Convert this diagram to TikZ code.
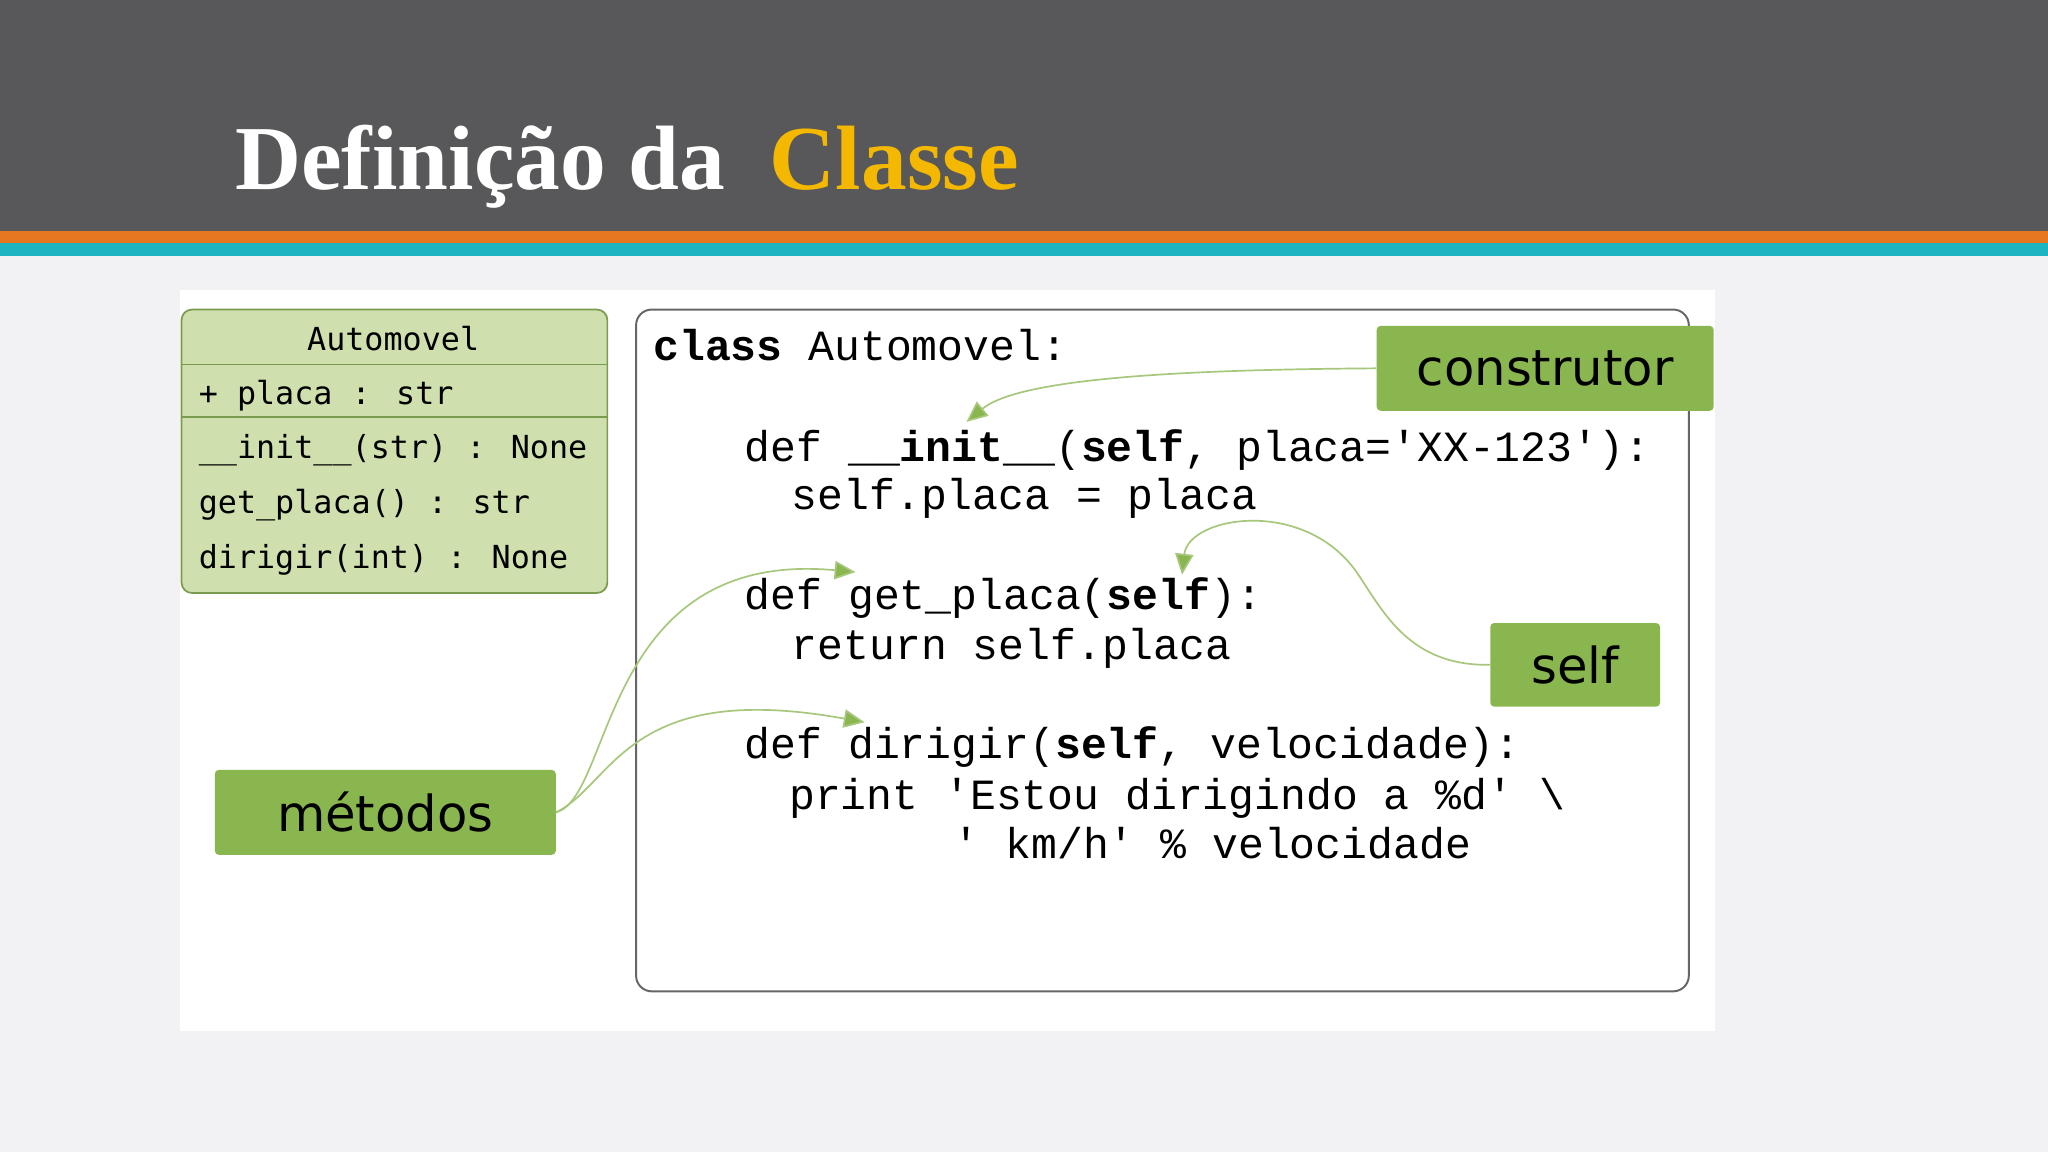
\documentclass[tikz,border=0pt]{standalone}
\usepackage{fontspec}
\setmainfont{Liberation Serif}
\setmonofont{Liberation Mono}
\newfontfamily\labfont{DejaVu Sans}
\newfontfamily\umlfont{DejaVu Sans Mono}
\usetikzlibrary{arrows.meta}
\definecolor{hdr}{HTML}{58585A}
\definecolor{orng}{HTML}{E87722}
\definecolor{teal}{HTML}{1CB5C0}
\definecolor{bgc}{HTML}{F2F1F4}
\definecolor{umlfill}{HTML}{CFE0AE}
\definecolor{umlline}{HTML}{7A9A4E}
\definecolor{labfill}{HTML}{8AB650}
\definecolor{gold}{HTML}{F5B800}
\tikzset{
  code/.style={anchor=base west,inner sep=0,font=\fontsize{33}{36}\ttfamily},
  uml/.style={anchor=base west,inner sep=0,font=\fontsize{24.3}{28}\umlfont},
  lab/.style={fill=labfill,rounded corners=3,inner sep=0,font=\fontsize{38}{44}\labfont},
  conn/.style={draw=labfill!75!white,line width=1.3,-{Triangle[length=16,width=14,fill=labfill]}}
}
\begin{document}
\begin{tikzpicture}[x=1pt,y=-1pt]
\useasboundingbox (0,0) rectangle (1568,882);
\fill[bgc] (0,0) rectangle (1568,882);
\fill[hdr] (0,0) rectangle (1568,177);
\fill[orng] (0,177) rectangle (1568,186);
\fill[teal] (0,186) rectangle (1568,196);
\node[anchor=base west,inner sep=0,text=white,font=\fontsize{70}{74}\bfseries] (title) at (180,145) {Definição da\hspace{34pt}\textcolor{gold}{Classe}};
\fill[white] (138,222) rectangle (1313,789);
% UML
\draw[umlline,fill=umlfill,line width=1.3,rounded corners=8] (139,237) rectangle (465,454);
\draw[umlline,line width=1.3] (139,279) -- (465,279) (139,319) -- (465,319);
\node[uml,anchor=base] (un) at (301,268) {Automovel};
\node[uml] (u1) at (152,310) {+ placa : str};
\node[uml] (u2) at (152,351) {\_\_init\_\_(str) : None};
\node[uml] (u3) at (152,393) {get\_placa() : str};
\node[uml] (u4) at (152,435) {dirigir(int) : None};
% code box
\draw[gray!80!black,line width=1.5,rounded corners=12] (487,237) rectangle (1293,759);
\node[code] (c1) at (500,276) {\textbf{class} Automovel:};
\node[code] (c2) at (570,353) {def \textbf{\_\_init\_\_}(\textbf{self}, placa='XX-123'):};
\node[code] (c3) at (606,390) {self.placa = placa};
\node[code] (c4) at (570,467) {def get\_placa(\textbf{self}):};
\node[code] (c5) at (606,505) {return self.placa};
\node[code] (c6) at (570,581) {def dirigir(\textbf{self}, velocidade):};
\node[code] (c7) at (604,620) {print 'Estou dirigindo a \%d' \textbackslash};
\node[code] (c8) at (730,657) {' km/h' \% velocidade};
% labels
\node[lab,minimum width=258,minimum height=65] (ctor) at (1183,282) {construtor};
\node[lab,minimum width=130,minimum height=64] (self) at (1206,509) {self};
\node[lab,minimum width=261,minimum height=65] (met) at (295,622) {métodos};
\coordinate (t1) at (740,323);
\coordinate (t2) at (905,440);
\coordinate (t3) at (655,438);
\coordinate (t4) at (662,553);
\draw[conn] (ctor.west) .. controls (900,283) and (780,290) .. (t1);
\draw[conn] (self.west) .. controls (1080,510) and (1060,470) .. (1040,440) .. controls (1000,380) and (910,395) .. (t2);
\draw[conn] (met.east) .. controls (470,610) and (460,420) .. (t3);
\draw[conn] (met.east) .. controls (470,600) and (480,520) .. (t4);
\end{tikzpicture}
\end{document}
